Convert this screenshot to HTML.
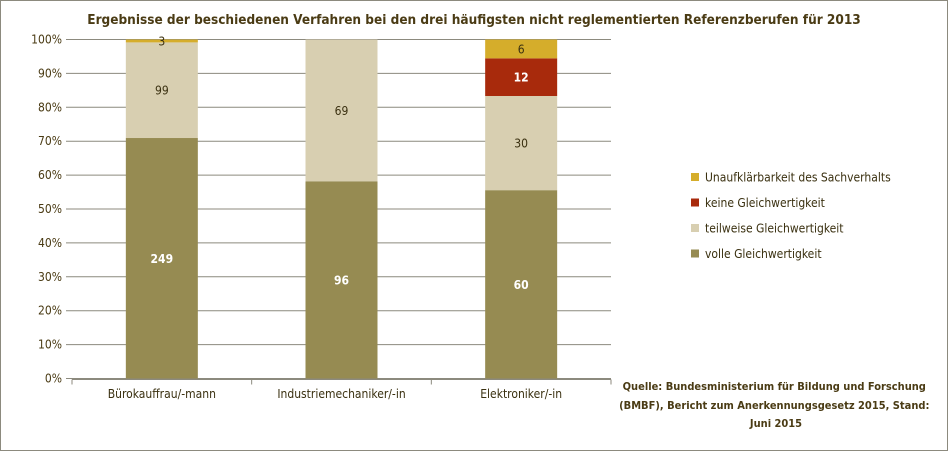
<!DOCTYPE html>
<html><head><meta charset="utf-8"><style>
body{margin:0;background:#fff;}
svg{display:block;font-family:"DejaVu Sans Condensed","Liberation Sans",sans-serif;}
</style></head><body>
<svg id="c" width="948" height="451">
<rect x="0.5" y="0.5" width="947" height="450" fill="#fff" stroke="#8c8a7e"/>
<text x="474" y="24" text-anchor="middle" font-size="13.5" font-weight="bold" fill="#4a3b14">Ergebnisse der beschiedenen Verfahren bei den drei häufigsten nicht reglementierten Referenzberufen für 2013</text>
<g id="grid"></g><g id="bars"></g><g id="axis"></g>
<g id="legend"></g>
<text font-size="11" font-weight="bold" fill="#4a3b14" text-anchor="middle">
<tspan x="776" y="390">Quelle: Bundesministerium  für Bildung und Forschung</tspan>
<tspan x="776" y="409">(BMBF), Bericht zum Anerkennungsgesetz  2015, Stand:</tspan>
<tspan x="776" y="427">Juni 2015</tspan></text>
</svg>
<script>
const categories=["Bürokauffrau/-mann","Industriemechaniker/-in","Elektroniker/-in"];
const seriesNames=["volle Gleichwertigkeit","teilweise Gleichwertigkeit","keine Gleichwertigkeit","Unaufklärbarkeit des Sachverhalts"];
const volle=[249,96,60];
const teilweise=[99,69,30];
const keine=[0,0,12];
const unaufklaerbar=[3,0,6];
const tickLabels=["0%","10%","20%","30%","40%","50%","60%","70%","80%","90%","100%"];
const colors=["#968b52","#d8cfb1","#a82a0c","#d5ad2b"];
const series=[volle,teilweise,keine,unaufklaerbar];
const NS="http://www.w3.org/2000/svg";
const X0=72,X1=611,Y0=378.5,Y1=39.5;
const y=p=>Y0-(Y0-Y1)*p;
const bw=(X1-X0)/categories.length;
const xc=i=>X0+bw*(i+0.5);
function mk(t,a,parent,txt){const e=document.createElementNS(NS,t);for(const k in a)e.setAttribute(k,a[k]);if(txt!=null)e.textContent=txt;document.getElementById(parent).appendChild(e);return e;}
tickLabels.forEach((l,i)=>{const yy=y(i/10);
 const g=mk("line",{x1:X0-6,x2:X1,y1:yy,y2:yy,stroke:"#8c8a7e","stroke-width":1},"grid");
 
 
 const t=mk("text",{x:X0-10,y:yy+4,"text-anchor":"end","font-size":12,fill:"#4a3b14"},"axis",l);
 
 
});
categories.forEach((c,i)=>{
 const tot=series.reduce((s,a)=>s+a[i],0);let acc=0;
 series.forEach((a,k)=>{const v=a[i];if(!v)return;const ya=y(acc/tot),yb=y((acc+v)/tot);acc+=v;
  const r=mk("rect",{x:xc(i)-36,y:yb,width:72,height:ya-yb,fill:colors[k]},"bars");
  
  
  const light=(k==0||k==2);
  const t=mk("text",{x:xc(i),y:(ya+yb)/2+4.5,"text-anchor":"middle","font-size":12,"font-weight":light?"bold":"normal",fill:light?"#fff":"#3a3010"},"bars",v);
  
  
 });
 const t=mk("text",{x:xc(i),y:398,"text-anchor":"middle","font-size":12,fill:"#3a3010"},"axis",c);
 
 
});
const ax=mk("line",{x1:X0,x2:X1,y1:Y0+1,y2:Y0+1,stroke:"#8c8a7e"},"axis");


for(let i=0;i<=categories.length;i++){const tk=mk("line",{x1:X0+bw*i,x2:X0+bw*i,y1:Y0+1,y2:Y0+6,stroke:"#8c8a7e"},"axis");
 
 }
[3,2,1,0].forEach((k,j)=>{const yy=178+j*25.5;
 const r=mk("rect",{x:691,y:yy-5,width:8,height:8,fill:colors[k]},"legend");
 
 
 const t=mk("text",{x:705,y:yy+3.5,"font-size":12,fill:"#3a3010"},"legend",seriesNames[k]);
 
 
});
</script>
</body></html>
